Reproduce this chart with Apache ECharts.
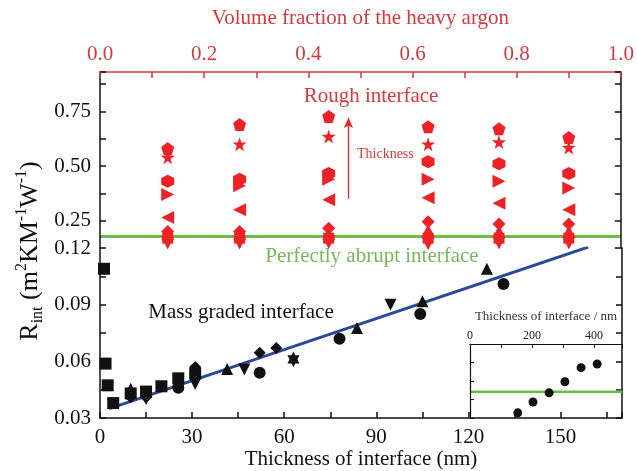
<!DOCTYPE html>
<html>
<head>
<meta charset="utf-8">
<script src="https://cdn.jsdelivr.net/npm/echarts@6/dist/echarts.min.js"></script>
<style>
  html, body { margin: 0; padding: 0; background: #fff; }
  #chart { width: 637px; height: 471px; }
</style>
</head>
<body>
<div id="chart"></div>
<script>
// top axis: volume fraction of heavy argon (red columns)
var fractions = [0.13, 0.268, 0.439, 0.63, 0.766, 0.9];
var redPentagon = [0.58, 0.69, 0.727, 0.68, 0.67, 0.63];
var redStar = [0.54, 0.60, 0.635, 0.60, 0.61, 0.585];
var redHexagon = [0.43, 0.44, 0.466, 0.52, 0.51, 0.466];
var redRight = [0.37, 0.41, 0.44, 0.44, 0.43, 0.40];
var redLeft = [0.265, 0.30, 0.346, 0.355, 0.33, 0.30];
var redDiamond = [0.20, 0.20, 0.215, 0.245, 0.235, 0.235];
var redUp = [0.19, 0.19, 0.19, 0.205, 0.20, 0.20];
var redSquare = [0.17, 0.17, 0.17, 0.17, 0.17, 0.17];
var redDown = [0.148, 0.148, 0.15, 0.145, 0.148, 0.148];
var abruptLevel = 0.178;
var arrowFrom = [0.477, 0.35];
var arrowTo = [0.477, 0.72];

// bottom axis: thickness of interface (nm), black points
var blackSquare = [[1.3, 0.109], [1.8, 0.0588], [2.5, 0.0473], [4.3, 0.0379], [10, 0.043], [15, 0.044], [20, 0.0468], [25.5, 0.051], [31, 0.0536], [158, 0.1205]];
var blackDiamond = [[10, 0.041], [15, 0.041], [25.5, 0.047], [31, 0.057], [52, 0.0645], [57.4, 0.067]];
var blackUp = [[10, 0.0455], [41.4, 0.056], [63, 0.062], [83.7, 0.0777], [105, 0.0918], [126, 0.109]];
var blackDown = [[15, 0.040], [31, 0.048], [47, 0.0557], [63, 0.060], [94.6, 0.090]];
var blackCircle = [[25.5, 0.046], [52, 0.054], [78, 0.072], [104.3, 0.085], [131.4, 0.101]];
var fitLine = [[3, 0.035], [159, 0.1205]];

// inset
var insetThickness = [154, 203, 255, 306, 358, 410];
var insetValue = [0.07, 0.216, 0.34, 0.49, 0.68, 0.73];
var insetAbrupt = 0.355;

var RED = '#ee2226';
var RED_TEXT = '#d8393c';
var GREEN = '#6cbd45';
var FONT = 'Liberation Serif';

var pentagon = 'path://M0,-10 L9.51,-3.09 L5.88,8.09 L-5.88,8.09 L-9.51,-3.09 Z';
var star = 'path://M0,-10 L2.35,-3.24 L9.51,-3.09 L3.80,1.24 L5.88,8.09 L0,4 L-5.88,8.09 L-3.80,1.24 L-9.51,-3.09 L-2.35,-3.24 Z';
var hexagon = 'path://M0,-10 L8.66,-5 L8.66,5 L0,10 L-8.66,5 L-8.66,-5 Z';

function col(arr) {
    return fractions.map(function (f, i) { return [f, arr[i]]; });
}

function redSeries(arr, symbol, rotate, size) {
    return {
        type: 'scatter', xAxisIndex: 1, yAxisIndex: 0,
        data: col(arr), symbol: symbol, symbolRotate: rotate || 0,
        symbolSize: size || 13, itemStyle: { color: RED, opacity: 1 }, z: 4
    };
}

function blackSeries(arr, symbol, rotate) {
    return {
        type: 'scatter', xAxisIndex: 0, yAxisIndex: 2,
        data: arr, symbol: symbol, symbolRotate: rotate || 0,
        symbolSize: 12, itemStyle: { color: '#111', opacity: 1 }, z: 4
    };
}

var axisBlack = { onZero: false, lineStyle: { color: '#111', width: 1.5 } };
var tickIn = { inside: true, length: 6, lineStyle: { color: '#111', width: 1.5 } };
var insetLine = { onZero: false, lineStyle: { color: '#111', width: 1.2 } };

var chart = echarts.init(document.getElementById('chart'));
chart.setOption({
    animation: false,
    textStyle: { fontFamily: FONT },
    grid: [
        { left: 100, right: 15, top: 72, height: 176 },   // upper, broken part
        { left: 100, right: 15, top: 248, height: 170 },  // lower part
        { left: 470, right: 15, top: 344, height: 74, show: true, backgroundColor: '#fff', borderWidth: 0, z: 1 } // inset
    ],
    xAxis: [
        {
            gridIndex: 1, type: 'value', position: 'bottom', min: 0, max: 170, interval: 15, z: 5,
            axisLine: axisBlack, axisTick: tickIn, splitLine: { show: false },
            axisLabel: {
                fontSize: 21, color: '#111', margin: 9,
                formatter: function (v) { return Math.round(v) % 30 === 0 && v < 170 ? String(Math.round(v)) : ''; }
            },
            name: 'Thickness of interface (nm)', nameLocation: 'middle', nameGap: 27,
            nameTextStyle: { fontSize: 21, color: '#111' }
        },
        {
            gridIndex: 0, type: 'value', position: 'top', min: 0, max: 1, interval: 0.1, z: 5,
            axisLine: { onZero: false, lineStyle: { color: RED_TEXT, width: 1.5 } },
            axisTick: { inside: true, length: 6, lineStyle: { color: RED_TEXT, width: 1.5 } },
            splitLine: { show: false },
            axisLabel: {
                fontSize: 21, color: RED_TEXT, margin: 7,
                formatter: function (v) { return Math.round(v * 10) % 2 === 0 ? v.toFixed(1) : ''; }
            },
            name: 'Volume fraction of the heavy argon', nameLocation: 'middle', nameGap: 43,
            nameTextStyle: { fontSize: 21, color: RED_TEXT }
        },
        {
            gridIndex: 2, type: 'value', position: 'top', min: 0, max: 490, interval: 100, z: 6,
            axisLine: insetLine,
            axisTick: { inside: true, length: 4, lineStyle: { color: '#111' } },
            splitLine: { show: false },
            axisLabel: {
                fontSize: 12, color: '#222', margin: 2,
                formatter: function (v) { return Math.round(v) % 200 === 0 ? String(Math.round(v)) : ''; }
            },
            name: 'Thickness of interface / nm', nameLocation: 'middle', nameGap: 21,
            nameTextStyle: { fontSize: 13, color: '#333' }
        }
    ],
    yAxis: [
        {
            gridIndex: 0, type: 'value', position: 'left', min: 0.125, max: 0.93, interval: 0.125, z: 5,
            axisLine: axisBlack, axisTick: tickIn, splitLine: { show: false },
            axisLabel: {
                fontSize: 21, color: '#111', margin: 9, showMinLabel: false,
                formatter: function (v) {
                    var k = Math.round(v / 0.125);
                    return (Math.abs(v - k * 0.125) < 1e-6 && k % 2 === 0) ? v.toFixed(2) : '';
                }
            }
        },
        {
            gridIndex: 0, type: 'value', position: 'right', min: 0.125, max: 0.93, interval: 0.125, z: 5,
            axisLine: axisBlack, axisTick: tickIn, splitLine: { show: false }, axisLabel: { show: false }
        },
        {
            gridIndex: 1, type: 'value', position: 'left', min: 0.03, max: 0.12, interval: 0.015, z: 5,
            axisLine: axisBlack, axisTick: tickIn, splitLine: { show: false },
            axisLabel: {
                fontSize: 21, color: '#111', margin: 9,
                formatter: function (v) { return Math.round(v / 0.015) % 2 === 0 ? v.toFixed(2) : ''; }
            }
        },
        {
            gridIndex: 1, type: 'value', position: 'right', min: 0.03, max: 0.12, interval: 0.015, z: 5,
            axisLine: axisBlack, axisTick: tickIn, splitLine: { show: false }, axisLabel: { show: false }
        },
        {
            gridIndex: 2, type: 'value', position: 'left', min: 0, max: 1, interval: 0.25, z: 6,
            axisLine: insetLine,
            axisTick: { inside: true, length: 4, lineStyle: { color: '#111' } },
            splitLine: { show: false }, axisLabel: { show: false }
        }
    ],
    series: [
        {
            type: 'line', xAxisIndex: 1, yAxisIndex: 0, symbol: 'none', z: 3,
            data: [[0, abruptLevel], [1, abruptLevel]],
            lineStyle: { color: GREEN, width: 3 }
        },
        redSeries(redPentagon, pentagon),
        redSeries(redStar, star, 0, 14),
        redSeries(redHexagon, hexagon),
        redSeries(redRight, 'triangle', -90),
        redSeries(redLeft, 'triangle', 90),
        redSeries(redDiamond, 'diamond'),
        redSeries(redUp, 'triangle'),
        redSeries(redSquare, 'rect', 0, 11),
        {
            type: 'scatter', xAxisIndex: 1, yAxisIndex: 0, data: col(redDown),
            symbol: 'triangle', symbolRotate: 180, symbolSize: 13, itemStyle: { color: RED, opacity: 1 }, z: 4,
            markLine: {
                silent: true, symbol: ['none', 'arrow'], symbolSize: [7, 10],
                lineStyle: { color: RED, width: 1.3, type: 'solid' }, label: { show: false },
                data: [[{ coord: arrowFrom }, { coord: arrowTo }]]
            }
        },
        {
            type: 'line', xAxisIndex: 0, yAxisIndex: 2, symbol: 'none', z: 3,
            data: fitLine, lineStyle: { color: '#2c4a9b', width: 3 }
        },
        blackSeries(blackSquare, 'rect'),
        blackSeries(blackDiamond, 'diamond'),
        blackSeries(blackUp, 'triangle'),
        blackSeries(blackDown, 'triangle', 180),
        blackSeries(blackCircle, 'circle'),
        {
            type: 'line', xAxisIndex: 2, yAxisIndex: 4, symbol: 'none', z: 5,
            data: [[0, insetAbrupt], [490, insetAbrupt]], lineStyle: { color: GREEN, width: 2.5 }
        },
        {
            type: 'scatter', xAxisIndex: 2, yAxisIndex: 4, symbolSize: 9, z: 6,
            data: insetThickness.map(function (t, i) { return [t, insetValue[i]]; }),
            itemStyle: { color: '#111', opacity: 1 }
        }
    ],
    graphic: [
        {
            type: 'text', x: 30, y: 251, rotation: Math.PI / 2,
            style: {
                text: '{r|R}{s|int}{r| (m}{p|2}{r|KM}{p|-1}{r|W}{p|-1}{r|)}',
                align: 'center', verticalAlign: 'middle',
                rich: {
                    r: { fontSize: 26, fontFamily: FONT, fill: '#111', lineHeight: 32 },
                    s: { fontSize: 16, fontFamily: FONT, fill: '#111', verticalAlign: 'bottom', lineHeight: 32 },
                    p: { fontSize: 16, fontFamily: FONT, fill: '#111', verticalAlign: 'top', lineHeight: 32 }
                }
            }
        },
        { type: 'text', x: 371, y: 96, style: { text: 'Rough interface', fontSize: 21, fontFamily: FONT, fill: RED_TEXT, align: 'center', verticalAlign: 'middle' } },
        { type: 'text', x: 357, y: 154, style: { text: 'Thickness', fontSize: 14, fontFamily: FONT, fill: RED_TEXT, align: 'left', verticalAlign: 'middle' } },
        { type: 'text', x: 372, y: 256, style: { text: 'Perfectly abrupt interface', fontSize: 21, fontFamily: FONT, fill: '#78b85c', align: 'center', verticalAlign: 'middle' } },
        { type: 'text', x: 241, y: 312, style: { text: 'Mass graded interface', fontSize: 21, fontFamily: FONT, fill: '#111', align: 'center', verticalAlign: 'middle' } }
    ]
});
</script>
</body>
</html>
